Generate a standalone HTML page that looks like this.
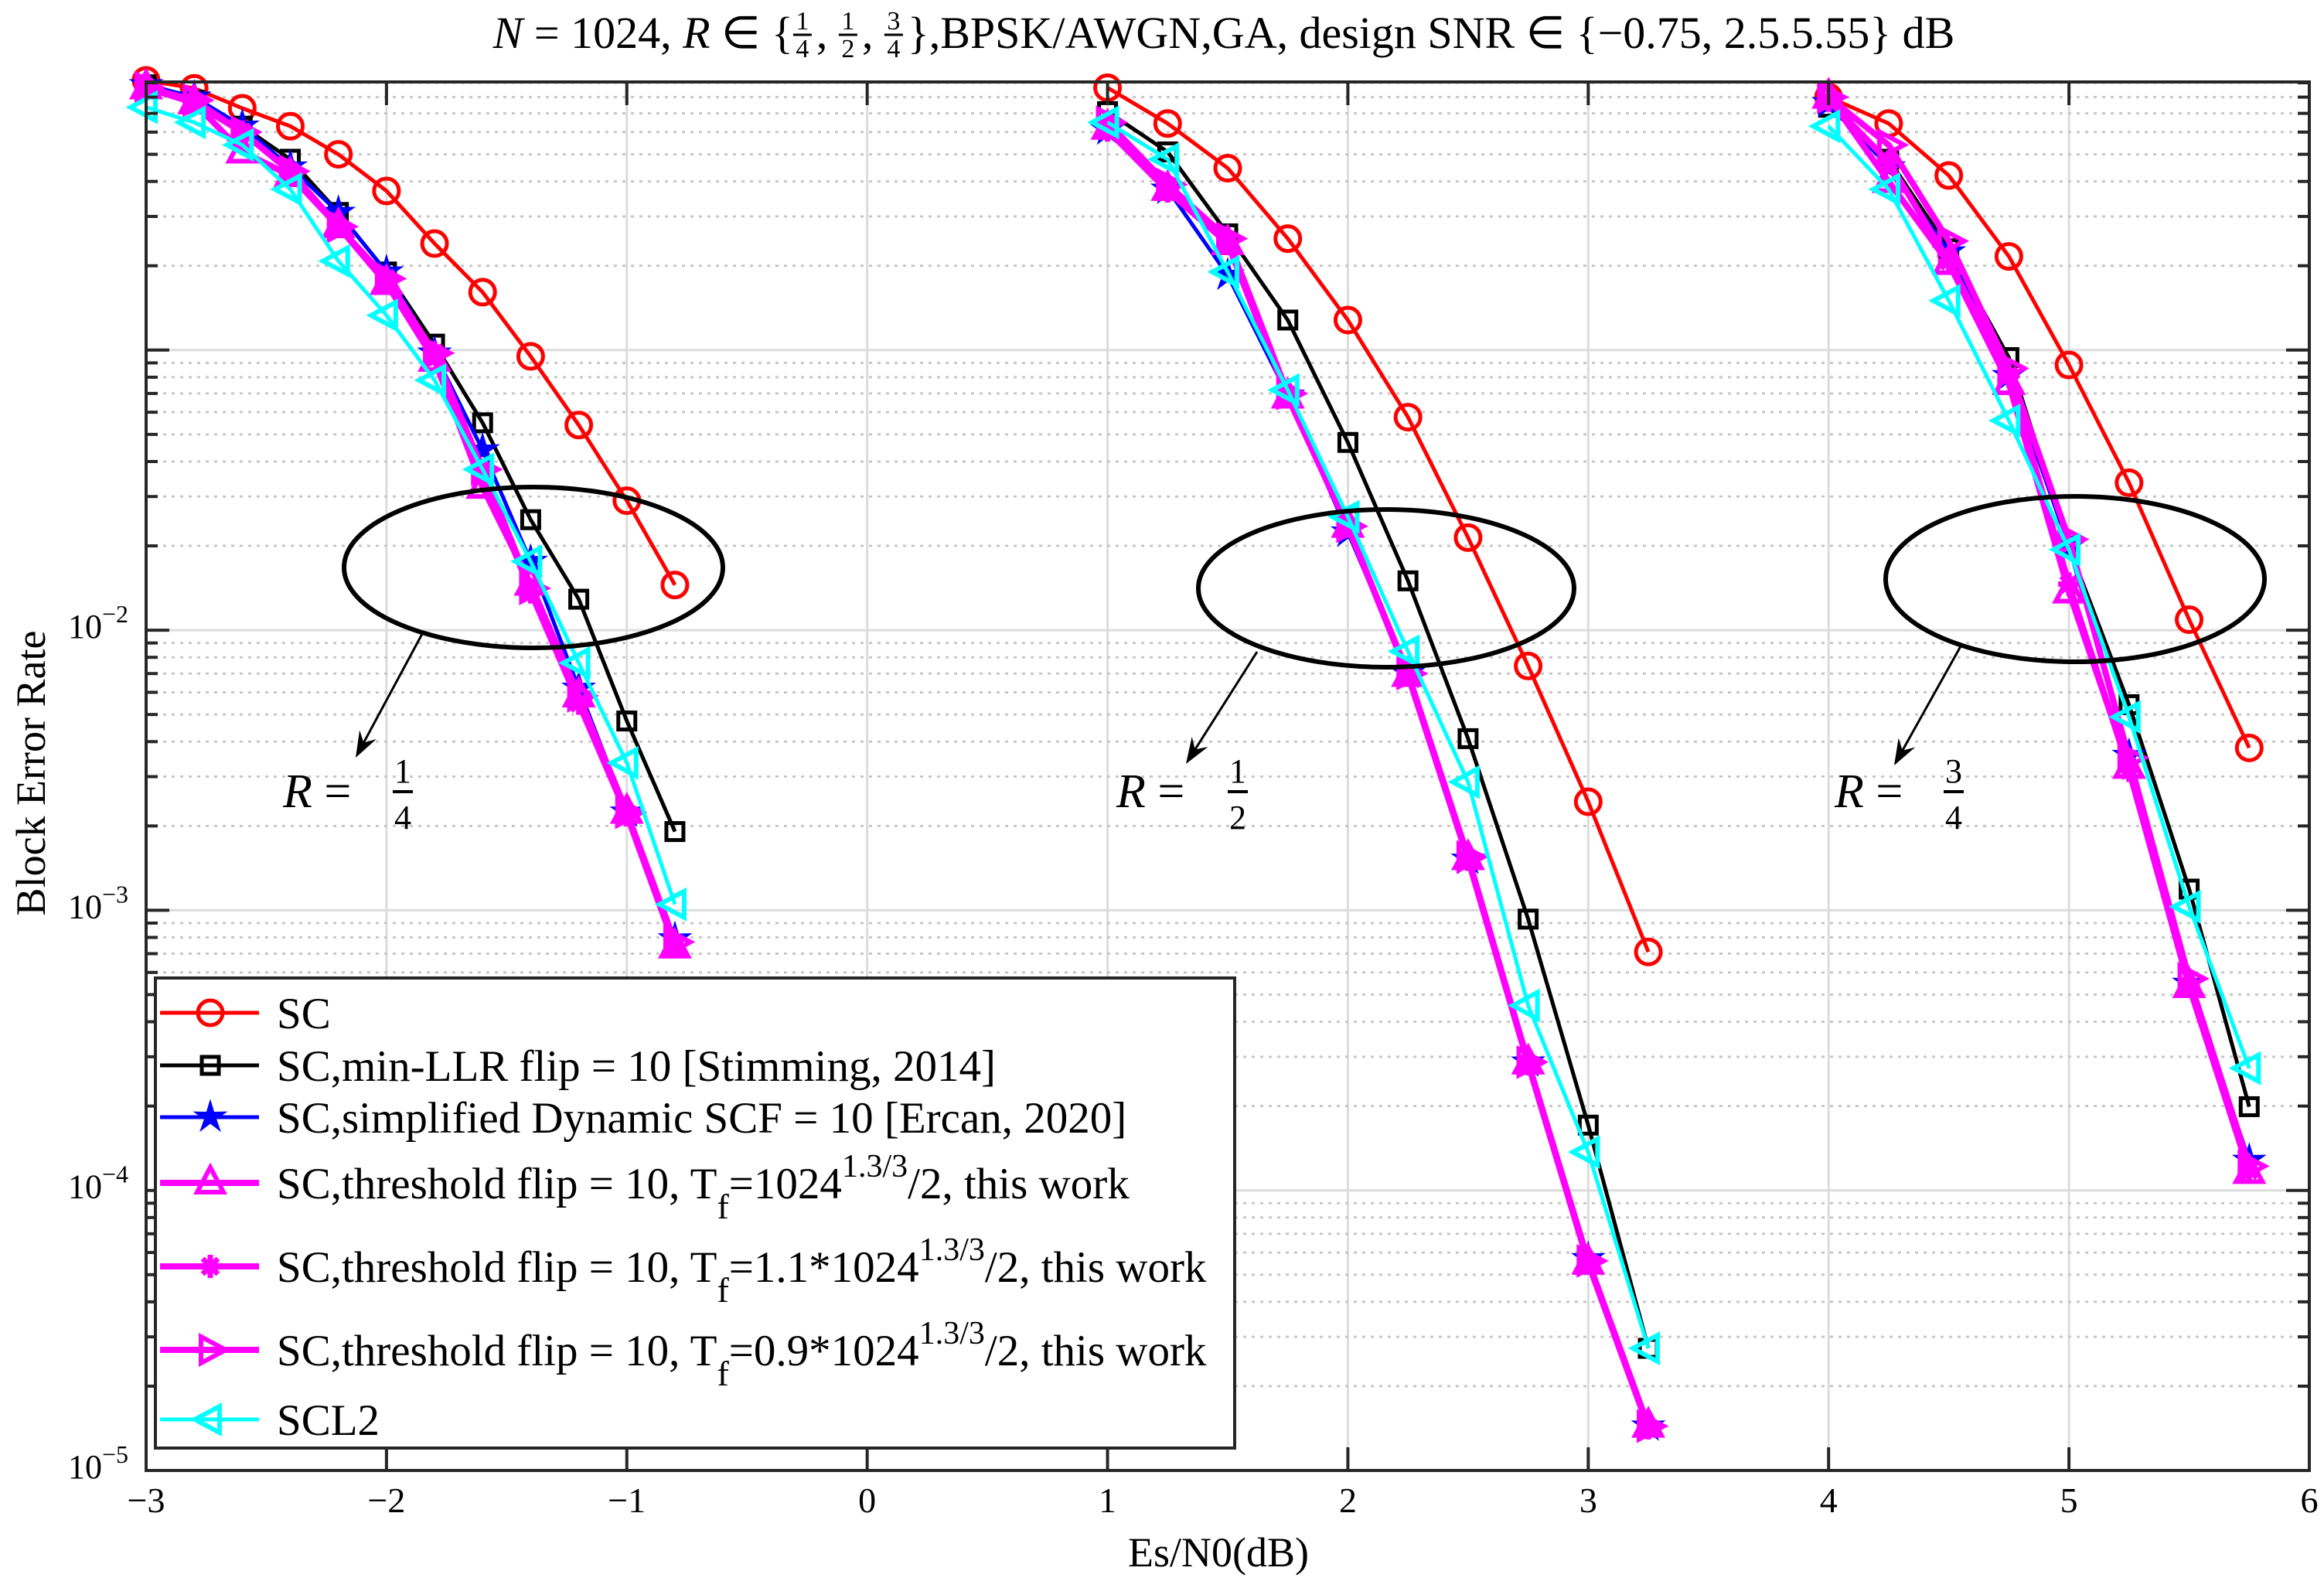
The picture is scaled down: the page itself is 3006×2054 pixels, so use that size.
<!DOCTYPE html>
<html><head><meta charset="utf-8"><style>
html,body{margin:0;padding:0;background:#fff;}
svg{display:block;font-family:"Liberation Serif",serif;}
text{white-space:pre;}
</style></head><body>
<svg id="chart" width="3006" height="2054" viewBox="0 0 3006 2054" xmlns="http://www.w3.org/2000/svg" xml:space="preserve">
<rect x="0" y="0" width="3006" height="2054" fill="#fff"/>
<g id="grid"></g>
<g id="series"></g>
<g id="annot"></g>
<g id="axes"></g>
<g id="legend"></g>
<g id="title"></g>
<text x="1576" y="2026" text-anchor="middle" font-size="54">Es/N0(dB)</text>
<text transform="translate(58,1000) rotate(-90)" text-anchor="middle" font-size="54">Block Error Rate</text>
</svg>
<script>
// ---- data ----
const xR14 = [-3,-2.8,-2.6,-2.4,-2.2,-2.0,-1.8,-1.6,-1.4,-1.2,-1.0,-0.8];
const xR12 = [1,1.25,1.5,1.75,2,2.25,2.5,2.75,3,3.25];
const xR34 = [4,4.25,4.5,4.75,5,5.25,5.5,5.75];

const scR14 = [0.918,0.86,0.73,0.63,0.50,0.37,0.24,0.161,0.095,0.054,0.029,0.0145];
const scR12 = [0.864,0.644,0.446,0.25,0.128,0.0576,0.0214,0.00745,0.00244,0.00071];
const scR34 = [0.80,0.644,0.42,0.216,0.0885,0.0336,0.0109,0.0038];

const llrR14 = [0.885,0.78,0.63,0.48,0.31,0.19,0.105,0.055,0.0248,0.0129,0.00474,0.00191];
const llrR12 = [0.71,0.51,0.26,0.128,0.0468,0.015,0.0041,0.00093,0.000171,2.73e-5];
const llrR34 = [0.736,0.48,0.23,0.094,0.0199,0.00542,0.00119,0.000199];

const dynR14 = [0.885,0.80,0.63,0.45,0.31,0.19,0.0975,0.044,0.0176,0.0062,0.00224,0.00079];
const dynR12 = [0.61,0.375,0.185,0.069,0.0224,0.0070,0.00152,0.000287,5.7e-5,1.44e-5];
const dynR34 = [0.764,0.45,0.224,0.081,0.0199,0.00357,0.000548,0.000128];

const triR14 = [0.864,0.764,0.51,0.42,0.276,0.173,0.092,0.0324,0.0146,0.00583,0.00224,0.00074];
const triR12 = [0.62,0.375,0.24,0.068,0.0235,0.0069,0.00153,0.000285,5.5e-5,1.44e-5];
const triR34 = [0.80,0.40,0.204,0.076,0.0137,0.00324,0.000535,0.000116];

const astR14 = [0.864,0.764,0.60,0.435,0.276,0.18,0.0975,0.0366,0.0137,0.00549,0.00219,0.00074];
const astR12 = [0.61,0.37,0.24,0.068,0.0235,0.0069,0.00152,0.000283,5.5e-5,1.42e-5];
const astR34 = [0.78,0.47,0.208,0.081,0.0146,0.00316,0.000535,0.000118];

const rtrR14 = [0.864,0.78,0.60,0.435,0.276,0.18,0.0975,0.0375,0.0141,0.00583,0.00224,0.00077];
const rtrR12 = [0.65,0.39,0.25,0.07,0.0235,0.007,0.00155,0.000287,5.6e-5,1.44e-5];
const rtrR34 = [0.80,0.54,0.245,0.086,0.0211,0.0035,0.00057,0.000122];

const sclR14 = [0.736,0.65,0.54,0.375,0.208,0.133,0.078,0.0375,0.0176,0.00764,0.00336,0.00105];
const sclR12 = [0.65,0.48,0.19,0.072,0.0254,0.0084,0.00287,0.000457,0.000137,2.73e-5];
const sclR34 = [0.63,0.375,0.15,0.056,0.0194,0.0049,0.00103,0.000273];

const xTicks = [-3,-2,-1,0,1,2,3,4,5,6];
const xTickLabels = ["−3","−2","−1","0","1","2","3","4","5","6"];
const yDecades = [-5,-4,-3,-2,-1];
const yLabeled = [-5,-4,-3,-2];

// ---- axes ----
const L=189, R=2987, T=106, B=1902;
const xMin=-3, xMax=6, yLogMin=-5, decadePx=362.3;
function X(v){return L+(v-xMin)*(R-L)/(xMax-xMin);}
function Y(b){return B-(Math.log10(b)-yLogMin)*decadePx;}
const NS="http://www.w3.org/2000/svg";
function mk(tag,attrs,parent){const e=document.createElementNS(NS,tag);for(const k in attrs)e.setAttribute(k,attrs[k]);parent.appendChild(e);return e;}
const grid=document.getElementById('grid'), axes=document.getElementById('axes'), ser=document.getElementById('series'), ann=document.getElementById('annot'), leg=document.getElementById('legend'), ttl=document.getElementById('title');

for(const t of xTicks){
  const g=mk('line',{x1:X(t),x2:X(t),y1:T,y2:B,stroke:'#dcdcdc','stroke-width':3},grid);
  
  
}
for(const d of yDecades.concat([0])){
  if(d> -5 && d<=-1){
    const g=mk('line',{x1:L,x2:R,y1:Y(Math.pow(10,d)),y2:Y(Math.pow(10,d)),stroke:'#dcdcdc','stroke-width':3},grid);
    
    
  }
  for(let m=2;m<=9;m++){
    const v=m*Math.pow(10,d-1);
    const yy=Y(v); if(yy<T||yy>B) continue;
    const g=mk('line',{x1:L,x2:R,y1:yy,y2:yy,stroke:'#c8c8c8','stroke-width':3,'stroke-dasharray':'4 7'},grid);
    
    
    for(const [xa,dir] of [[L,1],[R,-1]]){
      const tk=mk('line',{x1:xa,x2:xa+dir*15,y1:yy,y2:yy,stroke:'#262626','stroke-width':4},axes);
      
      
    }
  }
}
const box=mk('rect',{x:L,y:T,width:R-L,height:B-T,fill:'none',stroke:'#262626','stroke-width':4},axes);


xTicks.forEach((t,i)=>{
  for(const [ya,dir] of [[B,-1],[T,1]]){
    const tk=mk('line',{x1:X(t),x2:X(t),y1:ya,y2:ya+dir*30,stroke:'#262626','stroke-width':4},axes);
    
    
  }
  const lb=mk('text',{x:X(t),y:1956,'text-anchor':'middle','font-size':46},axes);
  lb.textContent=xTickLabels[i];
  
  
});
yDecades.forEach(d=>{
  const yy=Y(Math.pow(10,d));
  for(const [xa,dir] of [[L,1],[R,-1]]){
    const tk=mk('line',{x1:xa,x2:xa+dir*30,y1:yy,y2:yy,stroke:'#262626','stroke-width':4},axes);
    
    
  }
});
yLabeled.forEach(d=>{
  const yy=Y(Math.pow(10,d));
  const lb=mk('text',{x:88,y:yy+10,'font-size':44},axes);
  lb.textContent='10';
  const sp=mk('tspan',{dy:-20,'font-size':32},lb);
  sp.textContent='−'+(-d);
  
  
});

function marker(type,x,y,color,parent){
  let e;
  if(type==='o') e=mk('circle',{cx:x,cy:y,r:16,fill:'none',stroke:color,'stroke-width':5},parent);
  else if(type==='s') e=mk('rect',{x:x-11,y:y-11,width:22,height:22,fill:'none',stroke:color,'stroke-width':5},parent);
  else if(type==='p'){let pts=[];for(let k=0;k<10;k++){const a=-Math.PI/2+k*Math.PI/5;const r=k%2?8:22;pts.push((x+r*Math.cos(a)).toFixed(1)+','+(y+r*Math.sin(a)).toFixed(1));}
    e=mk('polygon',{points:pts.join(' '),fill:color,stroke:color,'stroke-width':1},parent);}
  else if(type==='^') e=mk('polygon',{points:`${x},${y-20} ${x+17},${y+12} ${x-17},${y+12}`,fill:'none',stroke:color,'stroke-width':6},parent);
  else if(type==='>') e=mk('polygon',{points:`${x+20},${y} ${x-12},${y+17} ${x-12},${y-17}`,fill:'none',stroke:color,'stroke-width':6},parent);
  else if(type==='<') e=mk('polygon',{points:`${x-20},${y} ${x+12},${y+17} ${x+12},${y-17}`,fill:'none',stroke:color,'stroke-width':6},parent);
  else if(type==='*'){e=mk('path',{d:`M${x-14},${y}H${x+14}M${x},${y-15}V${y+15}M${x-10},${y-10}L${x+10},${y+10}M${x-10},${y+10}L${x+10},${y-10}`,stroke:color,'stroke-width':7,fill:'none'},parent);}
  return e;
}
const seriesDefs=[
 {name:'sc',color:'#ff0000',m:'o',w:5,data:[[xR14,scR14],[xR12,scR12],[xR34,scR34]]},
 {name:'min-llr',color:'#000000',m:'s',w:5,data:[[xR14,llrR14],[xR12,llrR12],[xR34,llrR34]]},
 {name:'dynamic-scf',color:'#0000ff',m:'p',w:5,data:[[xR14,dynR14],[xR12,dynR12],[xR34,dynR34]]},
 {name:'threshold-flip',color:'#ff00ff',m:'^',w:8,data:[[xR14,triR14],[xR12,triR12],[xR34,triR34]]},
 {name:'threshold-flip-1.1',color:'#ff00ff',m:'*',w:8,data:[[xR14,astR14],[xR12,astR12],[xR34,astR34]]},
 {name:'threshold-flip-0.9',color:'#ff00ff',m:'>',w:8,data:[[xR14,rtrR14],[xR12,rtrR12],[xR34,rtrR34]]},
 {name:'scl2',color:'#00ffff',m:'<',w:5,data:[[xR14,sclR14],[xR12,sclR12],[xR34,sclR34]]},
];
seriesDefs.forEach(s=>{
  const g=mk('g',{},ser);
  
  
  s.data.forEach(([xs,ys],ri)=>{
    const pts=xs.map((x,i)=>X(x).toFixed(1)+','+Y(ys[i]).toFixed(1)).join(' ');
    const pl=mk('polyline',{points:pts,fill:'none',stroke:s.color,'stroke-width':s.w,'stroke-linejoin':'round'},g);
    
    
    xs.forEach((x,i)=>{
      const mkr=marker(s.m,X(x),Y(ys[i]),s.color,g);
      
      
    });
  });
});

const ann1=[[690,734,245,104,546,820,460,980,'4',366,521],[1793,761,243,102,1626,843,1534,988,'2',1444,1601],[2684,749,245,107,2536,836,2450,990,'4',2373,2527]];
const annNames=['quarter','half','three-quarter'];
const nums=['1','1','3'];
ann1.forEach((a,i)=>{
  const e=mk('ellipse',{cx:a[0],cy:a[1],rx:a[2],ry:a[3],fill:'none',stroke:'#000','stroke-width':6},ann);
  
  
  const ang=Math.atan2(a[7]-a[5],a[6]-a[4]);
  const hx=a[6],hy=a[7];
  const ln=mk('line',{x1:a[4],y1:a[5],x2:hx-20*Math.cos(ang),y2:hy-20*Math.sin(ang),stroke:'#000','stroke-width':3},ann);
  
  
  const p1=[hx-36*Math.cos(ang-0.35),hy-36*Math.sin(ang-0.35)],p2=[hx-36*Math.cos(ang+0.35),hy-36*Math.sin(ang+0.35)];
  const ah=mk('polygon',{points:`${hx},${hy} ${p1[0]},${p1[1]} ${hx-22*Math.cos(ang)},${hy-22*Math.sin(ang)} ${p2[0]},${p2[1]}`,fill:'#000'},ann);
  
  
  const t=mk('text',{x:a[9],y:1044,'font-size':62},ann);
  
  
  const t1=mk('tspan',{'font-style':'italic'},t); t1.textContent='R';
  const t2=mk('tspan',{},t); t2.textContent=' =';
  const n=mk('text',{x:a[10],y:1012,'font-size':44,'text-anchor':'middle'},ann); n.textContent=nums[i];
  
  
  const dd=mk('text',{x:a[10],y:1072,'font-size':44,'text-anchor':'middle'},ann); dd.textContent=a[8];
  
  
  const bar=mk('line',{x1:a[10]-13,x2:a[10]+13,y1:1024,y2:1024,stroke:'#000','stroke-width':4},ann);
  
  
});

(function(){
  const fs=58, y=62;
  let cx=0;
  function txt(s,opts){const t=mk('text',Object.assign({x:cx,y:y,'font-size':fs},opts||{}),ttl);t.textContent=s;cx+=t.getComputedTextLength();return t;}
  function frac(n,d){
    const w=24;
    const a=mk('text',{x:cx+w/2,y:y-24,'font-size':34,'text-anchor':'middle'},ttl);a.textContent=n;
    const b=mk('text',{x:cx+w/2,y:y+12,'font-size':34,'text-anchor':'middle'},ttl);b.textContent=d;
    const l=mk('line',{x1:cx,x2:cx+w,y1:y-17,y2:y-17,stroke:'#000','stroke-width':3},ttl);
    
    
    
    
    
    
    cx+=w+6;
  }
  txt('N',{'font-style':'italic'}); txt(' = 1024, '); txt('R',{'font-style':'italic'}); txt(' ∈ {');
  frac('1','4'); txt(', '); frac('1','2'); txt(', '); frac('3','4');
  txt('},BPSK/AWGN,GA, design SNR ∈ {−0.75, 2.5.5.55} dB');
  ttl.setAttribute('transform','translate('+(1583-cx/2)+',0)');
})();

const lb=mk('rect',{x:201,y:1265,width:1396,height:608,fill:'#fff',stroke:'#262626','stroke-width':4},leg);


const legY=[1310,1378,1445,1530,1638,1746,1836];
const legText=[
 ['SC'],
 ['SC,min-LLR flip = 10 [Stimming, 2014]'],
 ['SC,simplified Dynamic SCF = 10 [Ercan, 2020]'],
 ['SC,threshold flip = 10, T','f','=1024','1.3/3','/2, this work'],
 ['SC,threshold flip = 10, T','f','=1.1*1024','1.3/3','/2, this work'],
 ['SC,threshold flip = 10, T','f','=0.9*1024','1.3/3','/2, this work'],
 ['SCL2']];
seriesDefs.forEach((s,i)=>{
  const g=mk('g',{},leg);
  
  
  const y=legY[i];
  const ln=mk('line',{x1:207,x2:335,y1:y,y2:y,stroke:s.color,'stroke-width':s.w},g);
  
  
  const mm=marker(s.m,272,y,s.color,g);
  
  
  const t=mk('text',{x:358,y:y+20,'font-size':57},g);
  
  
  const p=legText[i];
  const a=mk('tspan',{},t); a.textContent=p[0];
  if(p.length>1){
    const b=mk('tspan',{dy:26,'font-size':46},t); b.textContent=p[1];
    const c=mk('tspan',{dy:-26},t); c.textContent=p[2];
    const d=mk('tspan',{dy:-28,'font-size':42},t); d.textContent=p[3];
    const e=mk('tspan',{dy:28},t); e.textContent=p[4];
  }
});
</script>
</body></html>
